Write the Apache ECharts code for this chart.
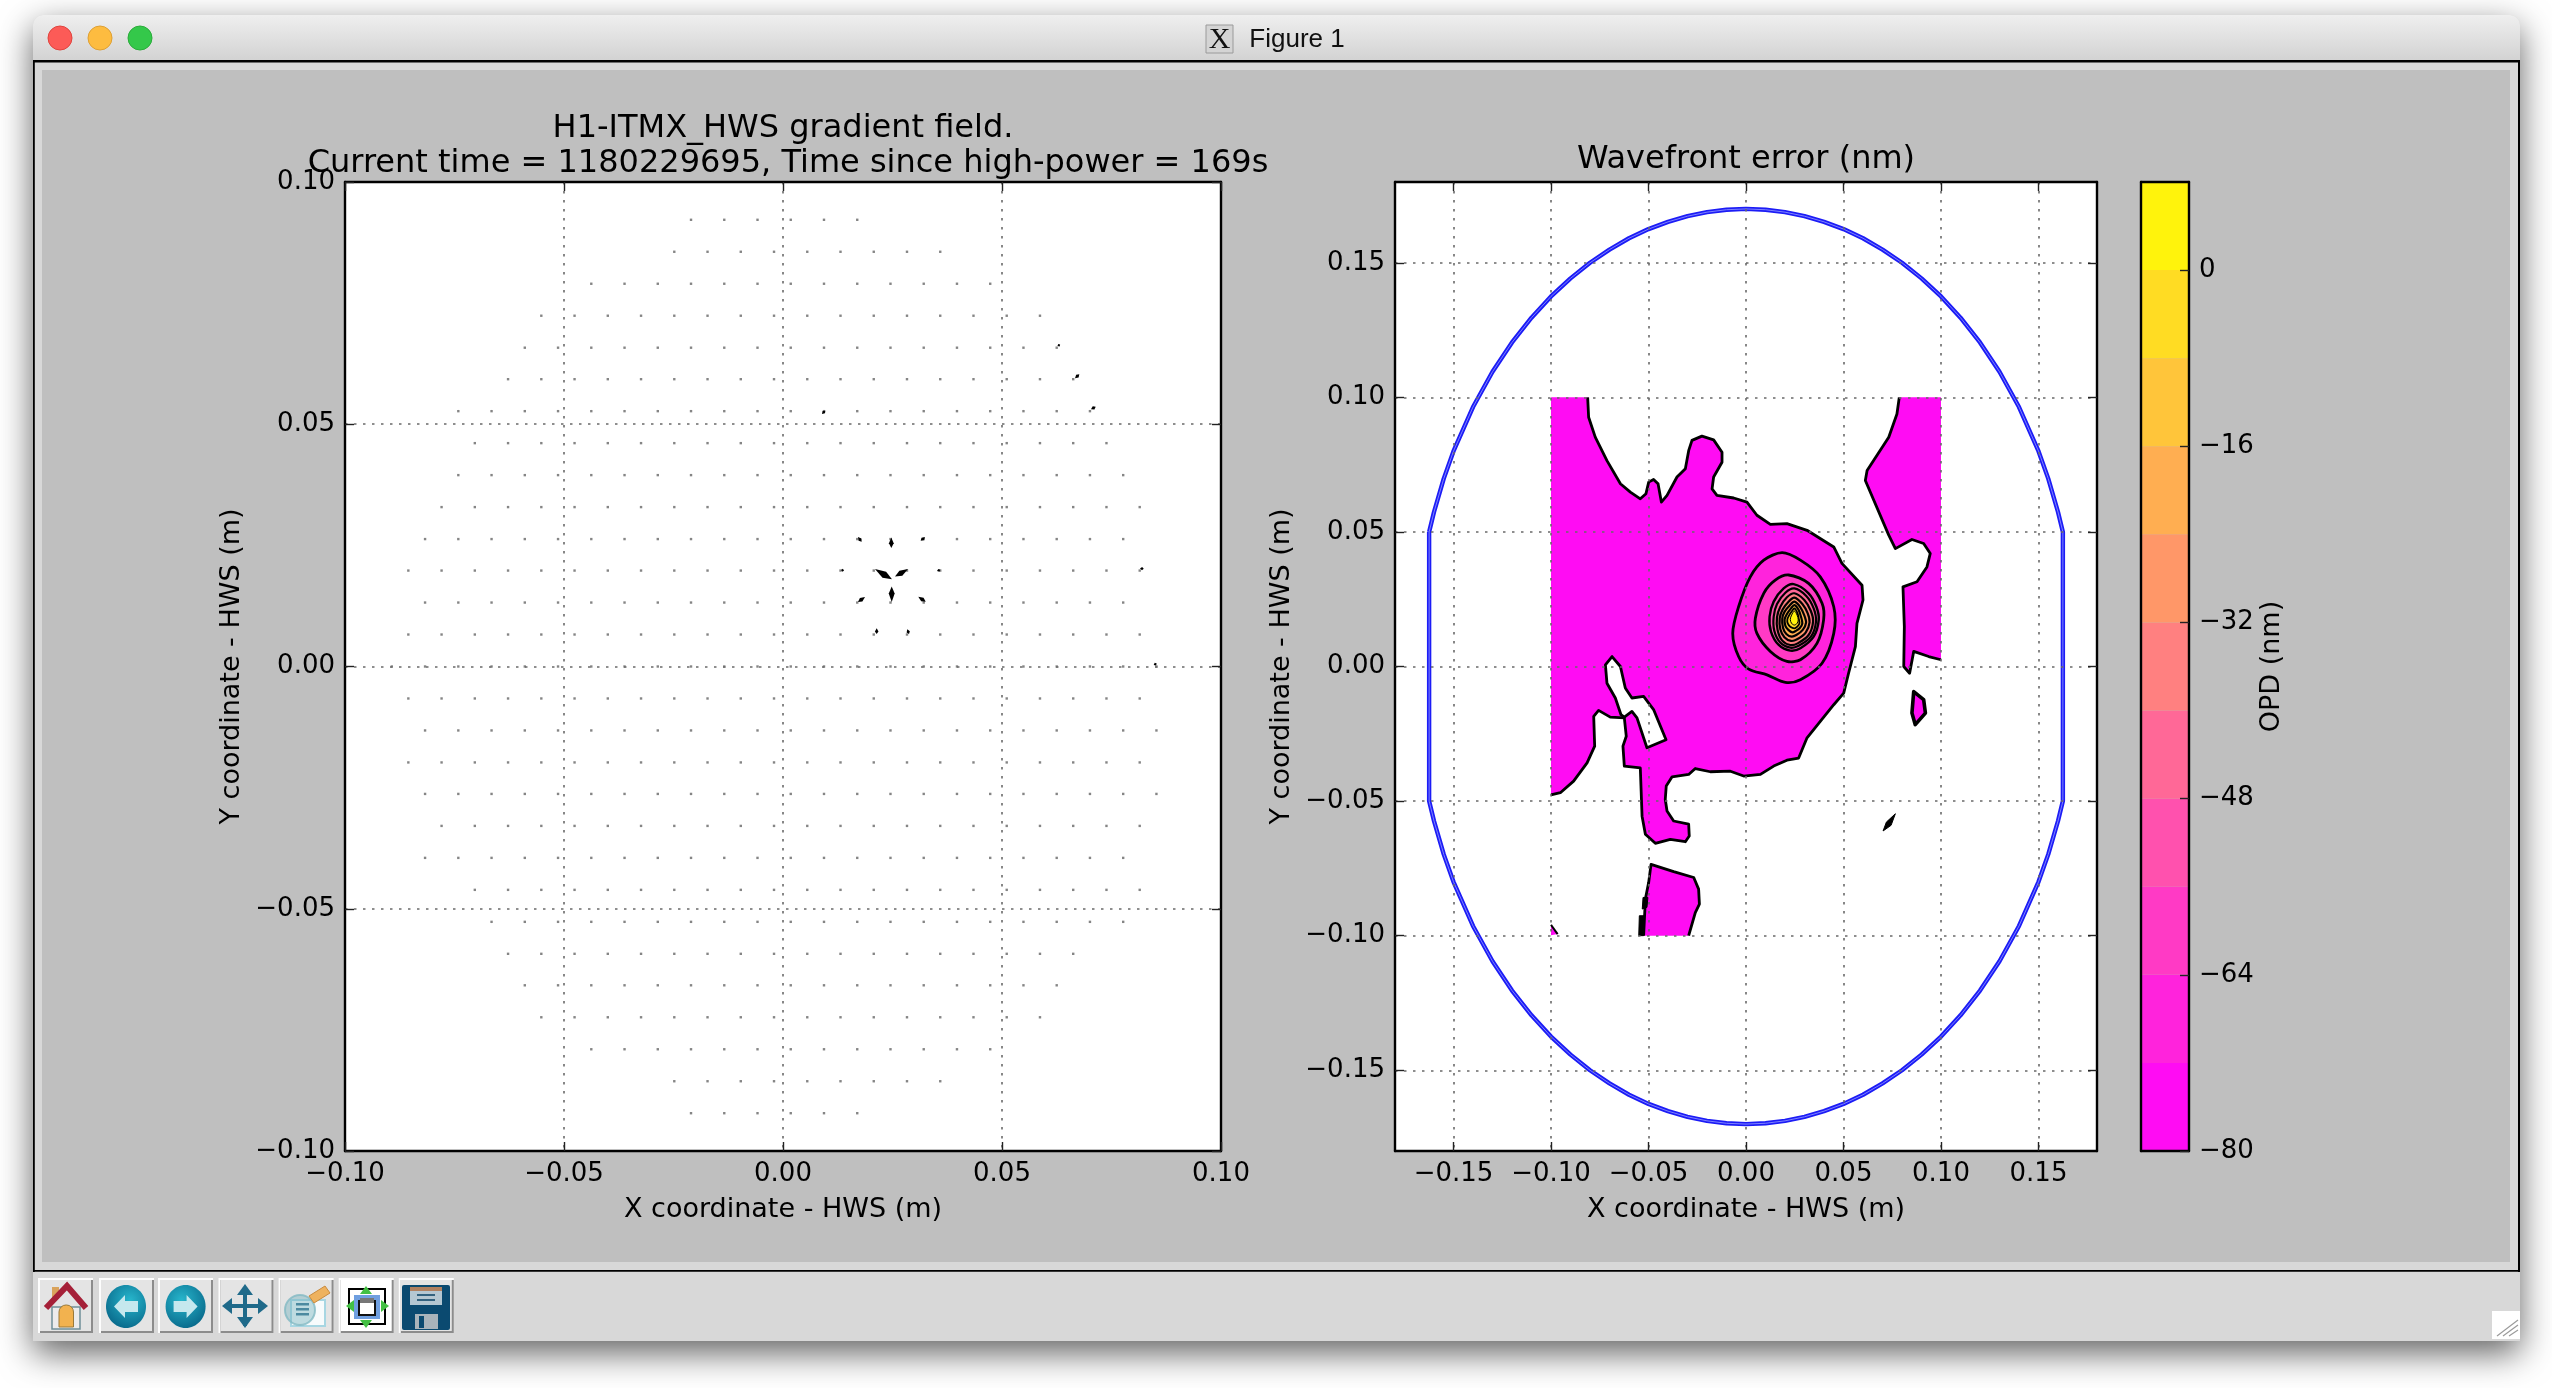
<!DOCTYPE html>
<html><head><meta charset="utf-8">
<style>html,body{margin:0;padding:0;background:#fff}#c{width:2552px;height:1388px}</style>
<script src="https://cdn.jsdelivr.net/npm/echarts@6/dist/echarts.min.js"></script>
</head><body><div id="c"></div>
<script>
// ---------- left panel: sensor lattice
const rowY = [0.0922,0.0856,0.079,0.0724,0.0658,0.0593,0.0527,0.0461,0.0395,0.0329,0.0263,0.0198,0.0132,0.0066,0,
  -0.0066,-0.0132,-0.0198,-0.0263,-0.0329,-0.0395,-0.0461,-0.0527,-0.0593,-0.0658,-0.0724,-0.079,-0.0856,-0.0922];
const columnsEvenRow = [-0.08931,-0.08172,-0.07413,-0.06654,-0.05895,-0.05136,-0.04377,-0.03618,-0.02859,-0.021,-0.01341,-0.00582,
  0.00177,0.00936,0.01695,0.02454,0.03213,0.03972,0.04731,0.0549,0.06249,0.07008,0.07767,0.08526];
const columnsOddRow = [-0.08554,-0.07795,-0.07036,-0.06277,-0.05518,-0.04759,-0.04,-0.03241,-0.02482,-0.01723,-0.00964,-0.00205,
  0.00554,0.01313,0.02072,0.02831,0.0359,0.04349,0.05108,0.05867,0.06626,0.07385,0.08144];
// first and last occupied column of each row (positions in the lists above)
const rowFirst = [9,8,6,4,4,3,2,2,2,1,1,0,1,0,0,0,1,0,1,1,1,2,3,3,4,4,6,8,9];
const rowLast  = [14,16,18,19,20,20,21,21,22,22,22,22,22,22,23,22,23,22,23,22,22,22,22,20,20,19,18,16,14];
// the visible arrows: tail x, tail y, u, v
const arrows = [
 [0.02473,0.02663,0,-0.00217],[0.021,0.02012,0.00388,-0.00213],[0.02854,0.02012,-0.00297,-0.00155],
 [0.02482,0.01331,0,0.0032],[0.01712,0.02673,0.00084,-0.00097],[0.03242,0.02673,-0.00098,-0.00076],
 [0.01872,0.01434,-0.0016,-0.00103],[0.03089,0.01441,0.00169,-0.00103],[0.02139,0.00788,0,-0.00118],
 [0.02838,0.00768,0.00039,-0.00097],[0.06667,0.05948,0.00098,0.00083],[0.07032,0.05308,0.00107,0.00054],
 [0.08151,0.02023,0.00085,-0.00004],[0.01324,0.01992,0.0007,-0.00008],[0.03516,0.01971,0.00075,0.00025],
 [0.0089,0.05212,0.00075,0.00068],[0.08463,0.00031,0.0007,0.0003],[0.06267,0.06615,0.0006,0.0003]];

// ---------- right panel: contour outlines in metres
const mainRegion = [[-0.1,0.1],[-0.0812,0.1],[-0.0807,0.0926],[-0.0773,0.0852],[-0.0713,0.0765],[-0.0644,0.0679],[-0.0593,0.0648],[-0.0542,0.0623],
 [-0.0513,0.0642],[-0.0499,0.0685],[-0.0474,0.0695],[-0.0451,0.0679],[-0.0434,0.0611],[-0.0405,0.0636],[-0.0354,0.0704],[-0.0311,0.0735],
 [-0.0294,0.0802],[-0.0277,0.084],[-0.0226,0.0856],[-0.0166,0.0842],[-0.0123,0.0796],[-0.0123,0.0759],[-0.0166,0.0704],[-0.0174,0.066],
 [-0.0149,0.0636],[-0.0063,0.0626],[0.0005,0.0611],[0.0056,0.0562],[0.0125,0.0528],[0.021,0.0531],[0.0313,0.0506],[0.045,0.0444],
 [0.0492,0.0383],[0.0595,0.0302],[0.06,0.0247],[0.0569,0.016],[0.0561,0.0074],[0.0526,-0.0025],[0.0501,-0.0099],[0.045,-0.0142],
 [0.0381,-0.0204],[0.0313,-0.0265],[0.027,-0.034],[0.021,-0.0348],[0.0142,-0.037],[0.0074,-0.0401],[-0.0012,-0.0407],[-0.008,-0.0389],
 [-0.0183,-0.0391],[-0.026,-0.0379],[-0.0294,-0.0401],[-0.0379,-0.041],[-0.0409,-0.0444],[-0.0414,-0.0494],[-0.0405,-0.0537],[-0.0371,-0.0574],
 [-0.0294,-0.0586],[-0.0291,-0.063],[-0.0311,-0.0651],[-0.0388,-0.0642],[-0.0465,-0.0657],[-0.0516,-0.0623],[-0.0533,-0.0556],[-0.0542,-0.0377],
 [-0.0624,-0.037],[-0.0631,-0.0296],[-0.0614,-0.0259],[-0.0624,-0.0191],[-0.0696,-0.0188],[-0.0756,-0.0163],[-0.0781,-0.0185],[-0.0776,-0.0296],
 [-0.0815,-0.0358],[-0.0884,-0.0426],[-0.0952,-0.0469],[-0.1,-0.0477]];
const whiteIsland = [[-0.0687,0.0037],[-0.0721,0.0006],[-0.0713,-0.0062],[-0.067,-0.0117],[-0.0641,-0.0179],[-0.0624,-0.0188],[-0.0585,-0.0167],
 [-0.0559,-0.0191],[-0.0508,-0.0302],[-0.041,-0.0272],[-0.0474,-0.016],[-0.0525,-0.0111],[-0.0585,-0.0117],[-0.0619,-0.008],[-0.0644,0]];
const rightRegion = [[0.0786,0.1],[0.1,0.1],[0.1,0.0025],[0.0937,0.0037],[0.086,0.0056],[0.0839,-0.0025],[0.0809,0],[0.0812,0.0148],[0.0805,0.0296],
 [0.0877,0.0315],[0.0928,0.037],[0.0945,0.042],[0.0911,0.0457],[0.0851,0.0472],[0.0766,0.0438],[0.0732,0.0488],[0.0612,0.0691],[0.0621,0.0728],
 [0.0732,0.0852],[0.0774,0.0938]];
const lowerRegion = [[-0.0487,-0.0735],[-0.0371,-0.0762],[-0.0268,-0.0784],[-0.0243,-0.0827],[-0.0239,-0.0883],[-0.026,-0.0914],[-0.0294,-0.1],
 [-0.0525,-0.1],[-0.0516,-0.0864],[-0.0499,-0.0802]];
const smallIslandD = [[0.086,-0.0093],[0.0911,-0.0123],[0.092,-0.0173],[0.0868,-0.0216],[0.0851,-0.0173]];
const cornerIsland = [[-0.1,-0.096],[-0.0966,-0.0994],[-0.1,-0.0998]];
const blackSliverA = [[0.0766,-0.0547],[0.0744,-0.059],[0.0703,-0.0611],[0.072,-0.0578]];
const blackSliverB = [[-0.055,-0.1],[-0.0525,-0.1],[-0.0521,-0.0926],[-0.0547,-0.0926]];
const blackSliverC = [[-0.0528,-0.0858],[-0.0503,-0.0858],[-0.0508,-0.0895],[-0.0532,-0.0901]];
const ring1 = [[0.0185,0.0423],[0.0279,0.0395],[0.0381,0.0333],[0.045,0.0222],[0.045,0.0123],[0.039,0.0012],[0.0279,-0.0049],[0.0202,-0.0059],[0.0108,-0.0031],[0.0014,-0.001],[-0.0038,0.0037],[-0.0068,0.0123],[-0.0038,0.0222],[0.0022,0.0333],[0.0091,0.0395]];
const ring2 = [[0.0219,0.034],[0.0321,0.0309],[0.039,0.0235],[0.0398,0.0173],[0.0364,0.0086],[0.0279,0.0025],[0.021,0.0019],[0.0125,0.0056],[0.0056,0.0123],[0.0048,0.0179],[0.0091,0.0272],[0.015,0.0321]];
const ring3 = [[0.0244,0.0306],[0.0321,0.0272],[0.0361,0.0222],[0.0373,0.0173],[0.0347,0.0111],[0.0279,0.0068],[0.0227,0.0059],[0.0168,0.008],[0.0128,0.013],[0.0121,0.0185],[0.0142,0.0241],[0.0193,0.029]];
const ring4 = [[0.0248,0.029],[0.0309,0.0262],[0.0347,0.0216],[0.0359,0.0167],[0.0333,0.0111],[0.027,0.0077],[0.0227,0.007],[0.0176,0.0089],[0.0145,0.0133],[0.0142,0.0185],[0.0159,0.0232],[0.0202,0.0274]];
const ring5 = [[0.0248,0.0272],[0.0299,0.0247],[0.0332,0.0207],[0.0344,0.0167],[0.0321,0.0117],[0.0265,0.0086],[0.0227,0.008],[0.0186,0.0096],[0.0162,0.0136],[0.0159,0.0183],[0.0176,0.0222],[0.021,0.0257]];
const ring6 = [[0.0248,0.0256],[0.0289,0.0232],[0.0316,0.0198],[0.0326,0.0164],[0.0306,0.0126],[0.0262,0.0101],[0.0231,0.0095],[0.0197,0.0109],[0.0176,0.0138],[0.0173,0.018],[0.0188,0.0212],[0.0217,0.024]];
const ring7 = [[0.0248,0.0241],[0.0279,0.022],[0.0299,0.019],[0.0308,0.0163],[0.0291,0.0136],[0.0258,0.0117],[0.0234,0.0111],[0.0207,0.0121],[0.019,0.0143],[0.0186,0.0178],[0.0198,0.0204],[0.0224,0.0227]];
const ring8 = [[0.0248,0.0228],[0.027,0.021],[0.0282,0.0185],[0.0289,0.016],[0.0275,0.0142],[0.0255,0.0132],[0.0238,0.0127],[0.0217,0.0136],[0.0202,0.0151],[0.0198,0.0175],[0.021,0.0195],[0.0231,0.0216]];
const ring9 = [[0.0248,0.0216],[0.0263,0.02],[0.027,0.0179],[0.0274,0.016],[0.0263,0.0148],[0.0248,0.0142],[0.0227,0.0148],[0.0214,0.016],[0.0212,0.0175],[0.0221,0.019],[0.0236,0.0206]];
const ring10 = [[0.0248,0.0206],[0.0262,0.0191],[0.0268,0.0173],[0.0262,0.016],[0.0248,0.0154],[0.0234,0.016],[0.0227,0.0175],[0.0234,0.0191]];
// aperture circle, clipped at the sides
const apertureX = [-0.1625,-0.16,-0.155,-0.15,-0.14,-0.13,-0.12,-0.11,-0.1,-0.09,-0.08,-0.07,-0.06,-0.05,-0.04,-0.03,-0.02,-0.01,0,
  0.01,0.02,0.03,0.04,0.05,0.06,0.07,0.08,0.09,0.1,0.11,0.12,0.13,0.14,0.15,0.155,0.16,0.1625,
  0.1625,0.16,0.155,0.15,0.14,0.13,0.12,0.11,0.1,0.09,0.08,0.07,0.06,0.05,0.04,0.03,0.02,0.01,0,
  -0.01,-0.02,-0.03,-0.04,-0.05,-0.06,-0.07,-0.08,-0.09,-0.1,-0.11,-0.12,-0.13,-0.14,-0.15,-0.155,-0.16,-0.1625,-0.1625];
const apertureY = [0.05,0.0574,0.0698,0.08,0.0964,0.1095,0.1204,0.1296,0.1375,0.1442,0.15,0.1549,0.1591,0.1625,0.1652,0.1673,0.1688,0.1697,0.17,
  0.1697,0.1688,0.1673,0.1652,0.1625,0.1591,0.1549,0.15,0.1442,0.1375,0.1296,0.1204,0.1095,0.0964,0.08,0.0698,0.0574,0.05,
  -0.05,-0.0574,-0.0698,-0.08,-0.0964,-0.1095,-0.1204,-0.1296,-0.1375,-0.1442,-0.15,-0.1549,-0.1591,-0.1625,-0.1652,-0.1673,-0.1688,-0.1697,-0.17,
  -0.1697,-0.1688,-0.1673,-0.1652,-0.1625,-0.1591,-0.1549,-0.15,-0.1442,-0.1375,-0.1296,-0.1204,-0.1095,-0.0964,-0.08,-0.0698,-0.0574,-0.05,0.05];

// ---------- colour bar
const levels = [-80,-72,-64,-56,-48,-40,-32,-24,-16,-8,0,8];
const bandColors = ['#ff0cf3','#ff23dc','#ff3ac5','#ff51ae','#ff6897','#ff8080','#ff9768','#ffae51','#ffc53a','#ffdc23','#fff30c'];
const barTicks = [-80,-64,-48,-32,-16,0];
const leftTicks = [-0.1,-0.05,0,0.05,0.1];
const rightTicks = [-0.15,-0.1,-0.05,0,0.05,0.1,0.15];

const FONT = '"DejaVu Sans"';
const minus = s => String(s).replace('-', '\u2212');
const fmt2 = v => minus(Number(v).toFixed(2));

// lattice points, looked up from the lists above
const lattice = [];
rowY.forEach((y, r) => {
  const cols = r % 2 === 0 ? columnsEvenRow : columnsOddRow;
  for (let c = rowFirst[r]; c <= rowLast[r]; c++) lattice.push([cols[c], y]);
});

// ordered painting of the contour set; edge = [first point, number of points] of the stroked run
// (where a region is cut by the data boundary, no contour line is drawn)
const shapes = [
  {pts: mainRegion, fill: bandColors[0], lw: 2.8, edge: [1, mainRegion.length - 1]},
  {pts: rightRegion, fill: bandColors[0], lw: 2.8, edge: [2, rightRegion.length - 1]},
  {pts: lowerRegion, fill: bandColors[0], lw: 2.8, edge: [7, lowerRegion.length]},
  {pts: cornerIsland, fill: bandColors[0], lw: 2, edge: [0, 2]},
  {pts: smallIslandD, fill: bandColors[0], lw: 3.6},
  {pts: whiteIsland, fill: '#ffffff', lw: 2.8},
  {pts: blackSliverA, fill: '#000', lw: 1},
  {pts: blackSliverB, fill: '#000', lw: 1},
  {pts: blackSliverC, fill: '#000', lw: 1},
  {pts: ring1, fill: bandColors[1], lw: 2.8, smooth: 0.3},
  {pts: ring2, fill: bandColors[2], lw: 2.8, smooth: 0.3},
  {pts: ring3, fill: bandColors[3], lw: 2.4, smooth: 0.3},
  {pts: ring4, fill: bandColors[4], lw: 2.2, smooth: 0.3},
  {pts: ring5, fill: bandColors[5], lw: 2.2, smooth: 0.3},
  {pts: ring6, fill: bandColors[6], lw: 2.2, smooth: 0.3},
  {pts: ring7, fill: bandColors[7], lw: 2.2, smooth: 0.3},
  {pts: ring8, fill: bandColors[8], lw: 2.2, smooth: 0.3},
  {pts: ring9, fill: bandColors[9], lw: 1.8, smooth: 0.3},
  {pts: ring10, fill: bandColors[10], lw: 1, smooth: 0.3}
];

const frame = {show: true, onZero: false, lineStyle: {color: '#000', width: 2.4}};
const grid = {show: true, lineStyle: {color: '#6a6a6a', width: 1.6, type: [2.5, 6.5]}};
const tickStyle = {show: true, inside: true, length: 9, lineStyle: {color: '#222', width: 1.4}};
const label = {color: '#000', fontFamily: FONT, fontSize: 26};
const nameStyle = {color: '#000', fontFamily: FONT, fontSize: 27};

function axis(gridIndex, position, min, max, ticks, opts) {
  opts = opts || {};
  const labelled = !!opts.labelled;
  return Object.assign({
    type: 'value', gridIndex, position, min, max, z: 10, scale: false,
    axisLine: frame,
    axisTick: ticks ? Object.assign({}, tickStyle, {customValues: ticks}) : {show: false},
    axisLabel: labelled ? Object.assign({show: true, margin: 10, customValues: ticks, formatter: opts.fmt || fmt2}, label) : {show: false},
    splitLine: (ticks && opts.split) ? grid : {show: false},
    minorTick: {show: false}
  }, opts.extra || {});
}

const nameX = (gap) => ({name: 'X coordinate - HWS (m)', nameLocation: 'middle', nameGap: gap, nameTextStyle: nameStyle});
const nameY = (gap) => ({name: 'Y coordinate - HWS (m)', nameLocation: 'middle', nameGap: gap, nameTextStyle: nameStyle});

const xAxes = [
  axis(0, 'bottom', -0.1, 0.1, leftTicks, {labelled: true, split: true, extra: nameX(45)}),
  axis(0, 'top', -0.1, 0.1, leftTicks),
  axis(1, 'bottom', -0.18, 0.18, rightTicks, {labelled: true, split: true, extra: nameX(45)}),
  axis(1, 'top', -0.18, 0.18, rightTicks),
  axis(2, 'bottom', 0, 1, null),
  axis(2, 'top', 0, 1, null)
];
const yAxes = [
  axis(0, 'left', -0.1, 0.1, leftTicks, {labelled: true, split: true, extra: nameY(100)}),
  axis(0, 'right', -0.1, 0.1, leftTicks),
  axis(1, 'left', -0.18, 0.18, rightTicks, {labelled: true, split: true, extra: nameY(100)}),
  axis(1, 'right', -0.18, 0.18, rightTicks),
  axis(2, 'right', -80, 8, barTicks, {labelled: true, fmt: v => minus(v),
    extra: {name: 'OPD (nm)', nameLocation: 'middle', nameGap: 69, nameRotate: 90, nameTextStyle: nameStyle}}),
  axis(2, 'left', -80, 8, null)
];

// ---------- window chrome (not data)
const btnY = 1278, btnH = 55;
const btnX = [38, 99, 158, 218.5, 278.6, 338.7, 398.8];
const chrome = [];
const g = (type, shape, style, extra) => chrome.push(Object.assign({type, shape, style, z: -5, silent: true}, extra || {}));
const grad = (stops) => ({type: 'linear', x: 0, y: 0, x2: 0, y2: 1, colorStops: stops.map((c, i) => ({offset: i / (stops.length - 1), color: c}))});

g('rect', {x: 33, y: 15, width: 2487, height: 1326, r: [10, 10, 0, 0]}, {fill: '#d8d8d8', shadowBlur: 34, shadowColor: 'rgba(0,0,0,0.62)', shadowOffsetY: 12});
g('rect', {x: 33, y: 15, width: 2487, height: 46, r: [10, 10, 0, 0]}, {fill: grad(['#efefef', '#d2d2d2'])});
g('rect', {x: 33, y: 60, width: 2487, height: 2.5}, {fill: '#000'});
g('rect', {x: 33, y: 60, width: 1.8, height: 1212}, {fill: '#000'});
g('rect', {x: 2518, y: 60, width: 2, height: 1212}, {fill: '#000'});
g('rect', {x: 33, y: 1270, width: 2487, height: 1.8}, {fill: '#000'});
g('rect', {x: 42, y: 70, width: 2468, height: 1192}, {fill: '#bfbfbf'});
g('circle', {cx: 60, cy: 38, r: 12}, {fill: '#fc5b57', stroke: '#e0443e', lineWidth: 1});
g('circle', {cx: 100, cy: 38, r: 12}, {fill: '#fdbc40', stroke: '#dea034', lineWidth: 1});
g('circle', {cx: 140, cy: 38, r: 12}, {fill: '#34c84a', stroke: '#2aac3a', lineWidth: 1});
g('rect', {x: 1206, y: 25, width: 27, height: 28}, {fill: '#d4d4d4', stroke: '#9a9a9a', lineWidth: 1});
chrome.push({type: 'text', z: -4, silent: true, style: {x: 1219.5, y: 40, text: 'X', align: 'center', verticalAlign: 'middle', fill: '#111', font: '30px "Liberation Serif"'}});
chrome.push({type: 'text', z: -4, silent: true, style: {x: 1297, y: 40, text: 'Figure 1', align: 'center', verticalAlign: 'middle', fill: '#111', font: '26px "Liberation Sans"'}});

// toolbar buttons
btnX.forEach((x, i) => {
  g('rect', {x, y: btnY, width: 55, height: btnH}, {fill: '#fdfdfd'});
  g('rect', {x: x + 2, y: btnY + 2, width: 53, height: btnH - 2}, {fill: '#8c8c8c'});
  g('rect', {x: x + 2, y: btnY + 2, width: 51, height: btnH - 4}, {fill: i === 5 ? '#ffffff' : '#e4e4e4'});
});
// home
g('rect', {x: 52, y: 1287, width: 7, height: 12}, {fill: '#d9a35c'});
g('rect', {x: 52, y: 1307, width: 28, height: 22}, {fill: '#ececec', stroke: '#6f8f98', lineWidth: 1.5});
g('rect', {x: 59, y: 1305, width: 14.5, height: 22, r: [7, 7, 0, 0]}, {fill: '#f2b24f', stroke: '#9a7a3a', lineWidth: 1});
g('polyline', {points: [[46, 1308], [67, 1286], [86, 1308]]}, {stroke: '#a52038', lineWidth: 6, fill: 'none'});
// back / forward
[[126, -1], [185.6, 1]].forEach(([cx, d]) => {
  g('ellipse', {cx, cy: 1306.5, rx: 20, ry: 21.5}, {fill: {type: 'radial', x: 0.5 + 0.1 * -d, y: 0.35, r: 0.7, colorStops: [{offset: 0, color: '#27b6cc'}, {offset: 1, color: '#0a6d8e'}]}});
  g('polygon', {points: [[cx + d * 12, 1306.5], [cx + d * 1, 1295], [cx + d * 1, 1301], [cx - d * 12, 1301], [cx - d * 12, 1312], [cx + d * 1, 1312], [cx + d * 1, 1318]]}, {fill: '#c5e8ee'});
});
// move
const mv = '#1f6a8a';
g('rect', {x: 227, y: 1304, width: 38, height: 4}, {fill: mv});
g('rect', {x: 243, y: 1288, width: 4, height: 38}, {fill: mv});
g('polygon', {points: [[222, 1306], [232, 1298], [232, 1314]]}, {fill: mv});
g('polygon', {points: [[268, 1306], [258, 1298], [258, 1314]]}, {fill: mv});
g('polygon', {points: [[245, 1284], [237, 1295], [253, 1295]]}, {fill: mv});
g('polygon', {points: [[245, 1328], [237, 1317], [253, 1317]]}, {fill: mv});
// configure
g('rect', {x: 291, y: 1300, width: 34, height: 26}, {fill: '#f7fbfc', stroke: '#a7d6e2', lineWidth: 2});
g('circle', {cx: 300, cy: 1310, r: 15}, {fill: 'rgba(120,180,190,0.45)', stroke: 'rgba(130,185,195,0.8)', lineWidth: 2});
g('rect', {x: 296, y: 1303, width: 13, height: 2.5}, {fill: '#4c8aa0'});
g('rect', {x: 296, y: 1308, width: 13, height: 2.5}, {fill: '#4c8aa0'});
g('rect', {x: 296, y: 1313, width: 13, height: 2.5}, {fill: '#4c8aa0'});
g('polygon', {points: [[309, 1296], [325, 1286], [330, 1293], [314, 1303]]}, {fill: '#eeb25f', stroke: '#c98b3f', lineWidth: 1});
// subplots
g('rect', {x: 349, y: 1289, width: 36, height: 35}, {fill: '#ffffff', stroke: '#000', lineWidth: 2});
g('rect', {x: 354, y: 1295, width: 26, height: 24}, {fill: '#6f9fe0'});
g('rect', {x: 359, y: 1301, width: 16, height: 14}, {fill: '#fff', stroke: '#111', lineWidth: 2});
g('rect', {x: 360, y: 1298, width: 14, height: 5}, {fill: '#777'});
g('polygon', {points: [[366, 1286], [360, 1294], [372, 1294]]}, {fill: '#43c043'});
g('polygon', {points: [[366, 1328], [360, 1320], [372, 1320]]}, {fill: '#43c043'});
g('polygon', {points: [[346, 1306], [354, 1300], [354, 1312]]}, {fill: '#43c043'});
g('polygon', {points: [[389, 1306], [381, 1300], [381, 1312]]}, {fill: '#43c043'});
// save
g('rect', {x: 402, y: 1285, width: 48, height: 45, r: 2}, {fill: '#0b4a70'});
g('rect', {x: 410, y: 1287, width: 32, height: 4}, {fill: '#b08060'});
g('rect', {x: 410, y: 1291, width: 32, height: 14}, {fill: '#b5c7d2'});
g('rect', {x: 417, y: 1294, width: 18, height: 2}, {fill: '#33627f'});
g('rect', {x: 417, y: 1299, width: 18, height: 2}, {fill: '#33627f'});
g('rect', {x: 415, y: 1314, width: 23, height: 15}, {fill: '#a9b4bb'});
g('rect', {x: 419, y: 1316, width: 5, height: 12}, {fill: '#0b4a70'});
// size grip
g('rect', {x: 2492, y: 1311, width: 28, height: 28}, {fill: '#ffffff'});
[[2497, 1336, 2518, 1320], [2503, 1336, 2518, 1325], [2509, 1336, 2518, 1330]].forEach(([a, b, c, d]) =>
  g('line', {x1: a, y1: b, x2: c, y2: d}, {stroke: '#9a9a9a', lineWidth: 1.2}));

// plot titles
const titles = [
  ['H1-ITMX_HWS gradient field.', 783, 129],
  ['Current time = 1180229695, Time since high-power = 169s', 788, 164],
  ['Wavefront error (nm)', 1746, 160]
];
titles.forEach(([text, x, y]) => chrome.push({type: 'text', z: 20, silent: true,
  style: {x, y, text, align: 'center', verticalAlign: 'middle', fill: '#000', font: '32px ' + FONT}}));

const option = {
  animation: false,
  backgroundColor: '#ffffff',
  graphic: {elements: chrome},
  grid: [
    {left: 345, top: 182, width: 876, height: 969, show: true, backgroundColor: '#fff', borderWidth: 0, z: 0},
    {left: 1395, top: 182, width: 702, height: 969, show: true, backgroundColor: '#fff', borderWidth: 0, z: 0},
    {left: 2141, top: 182, width: 48, height: 969, show: false}
  ],
  xAxis: xAxes,
  yAxis: yAxes,
  series: [
    {type: 'scatter', xAxisIndex: 0, yAxisIndex: 0, data: lattice, symbol: 'rect', symbolSize: 2.4,
     itemStyle: {color: '#666'}, silent: true, z: 3},
    {type: 'custom', coordinateSystem: 'cartesian2d', xAxisIndex: 0, yAxisIndex: 0, data: arrows, silent: true, z: 4,
     encode: {x: 0, y: 1},
     renderItem(params, api) {
       const x = api.value(0), y = api.value(1), u = api.value(2), v = api.value(3);
       const a = api.coord([x, y]), b = api.coord([x + u, y + v]);
       const dx = b[0] - a[0], dy = b[1] - a[1], L = Math.hypot(dx, dy);
       const h = 1.1 + L * 0.12, nx = -dy / L, ny = dx / L, mx = a[0] + dx * 0.55, my = a[1] + dy * 0.55;
       return {type: 'polygon', shape: {points: [a, [mx + nx * h, my + ny * h], b, [mx - nx * h, my - ny * h]]}, style: {fill: '#000'}};
     }},
    {type: 'custom', coordinateSystem: 'cartesian2d', xAxisIndex: 2, yAxisIndex: 2, silent: true, z: 2,
     data: shapes.map((s, i) => [0, 0, i]), encode: {x: 0, y: 1},
     renderItem(params, api) {
       const s = shapes[params.dataIndex];
       const pts = s.pts.map(p => api.coord(p));
       if (!s.edge) {
         return {type: 'polygon', shape: {points: pts, smooth: s.smooth || 0},
           style: {fill: s.fill, stroke: '#000', lineWidth: s.lw, lineJoin: 'round'}};
       }
       const run = [];
       for (let k = 0; k < s.edge[1]; k++) run.push(pts[(s.edge[0] + k) % pts.length]);
       return {type: 'group', children: [
         {type: 'polygon', shape: {points: pts}, style: {fill: s.fill}},
         {type: 'polyline', shape: {points: run}, style: {fill: 'none', stroke: '#000', lineWidth: s.lw, lineJoin: 'round'}}
       ]};
     }},
    {type: 'line', xAxisIndex: 2, yAxisIndex: 2, data: apertureX.map((x, i) => [x, apertureY[i]]), showSymbol: false, silent: true, z: 5,
     lineStyle: {color: '#1c1cf6', width: 4.4}},
    {type: 'line', xAxisIndex: 2, yAxisIndex: 2, data: apertureX.map((x, i) => [x, apertureY[i]]), showSymbol: false, silent: true, z: 6,
     lineStyle: {color: '#8a8eff', width: 0.9}},
    {type: 'custom', coordinateSystem: 'cartesian2d', xAxisIndex: 4, yAxisIndex: 4, silent: true, z: 2,
     data: bandColors.map((c, i) => [0, levels[i], levels[i + 1]]), encode: {x: 0, y: 1},
     renderItem(params, api) {
       const lo = api.coord([0, api.value(1)]), hi = api.coord([1, api.value(2)]);
       return {type: 'rect', shape: {x: lo[0], y: hi[1], width: hi[0] - lo[0], height: lo[1] - hi[1]},
         style: {fill: bandColors[params.dataIndex], stroke: null}};
     }}
  ]
};
const chart = echarts.init(document.getElementById('c'), null, {renderer: 'canvas', width: 2552, height: 1388});
chart.setOption(option);
</script></body></html>
